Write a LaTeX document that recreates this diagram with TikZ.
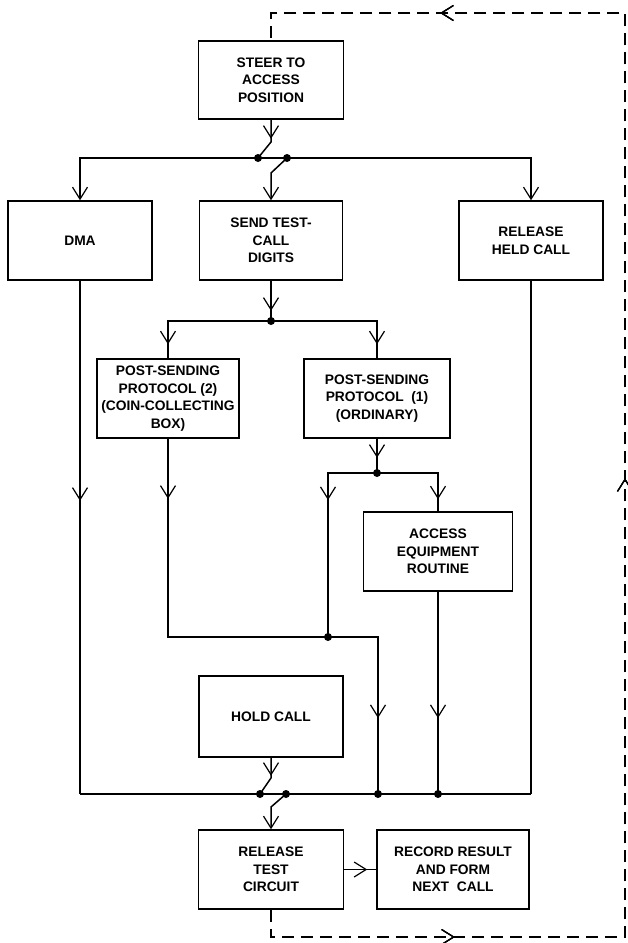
\documentclass[tikz,border=0pt]{standalone}
\usepackage{fontspec}
\setmainfont{Liberation Sans}
\usetikzlibrary{arrows.meta,decorations.markings}
\begin{document}
\begin{tikzpicture}[x=1pt,y=-1pt,
  line width=1.5pt,
  >={Straight Barb[length=12pt,width=15pt,line width=1.2pt]},
  box/.style={draw,rectangle,inner sep=0pt,align=center,
    font=\bfseries\fontsize{13.8}{17.5}\selectfont},
  arrowat/.style={postaction={decorate},decoration={markings,mark=at position #1 with {\arrow{>}}}},
  dashline/.style={dash pattern=on 12pt off 7pt}]
\useasboundingbox (0,0) rectangle (627,943);

% boxes
\node[box,minimum width=145pt,minimum height=78pt] (steer) at (271,80) {STEER TO\\ACCESS\\POSITION};
\node[box,minimum width=144pt,minimum height=79pt] (dma) at (80,240.5) {DMA};
\node[box,minimum width=143pt,minimum height=79pt] (send) at (271,240.5) {SEND TEST-\\CALL\\DIGITS};
\node[box,minimum width=144pt,minimum height=79pt] (rel) at (531,240.5) {RELEASE\\HELD CALL};
\node[box,minimum width=142pt,minimum height=79pt] (ps2) at (168,398.5) {POST-SENDING\\PROTOCOL (2)\\(COIN-COLLECTING\\BOX)};
\node[box,minimum width=146pt,minimum height=79pt] (ps1) at (377,398.5) {POST-SENDING\\PROTOCOL\ \ (1)\\(ORDINARY)};
\node[box,minimum width=149pt,minimum height=79pt] (acc) at (438,551.5) {ACCESS\\EQUIPMENT\\ROUTINE};
\node[box,minimum width=144pt,minimum height=81pt] (hold) at (271,716.5) {HOLD CALL};
\node[box,minimum width=145pt,minimum height=79pt] (rtc) at (271,869.5) {RELEASE\\TEST\\CIRCUIT};
\node[box,minimum width=152pt,minimum height=79pt] (rec) at (453,869.5) {RECORD RESULT\\AND FORM\\NEXT\ \ CALL};

% coordinates
\coordinate (s1a) at (271,142);
\coordinate (L1) at (258,158);
\coordinate (R1) at (287,158);
\coordinate (s1b) at (271,173);
\coordinate (J1) at (271,321);
\coordinate (J2) at (377,473);
\coordinate (J3) at (328,637);
\coordinate (B3) at (378,794);
\coordinate (B4) at (438,794);
\coordinate (BL) at (80,794);
\coordinate (BR) at (531,794);
\coordinate (s2a) at (271,778);
\coordinate (L2) at (260,794);
\coordinate (R2) at (286,794);
\coordinate (s2b) at (271,807);
\coordinate (d1) at (271,937);
\coordinate (d2) at (625,937);
\coordinate (d3) at (625,13);
\coordinate (d4) at (271,13);

% top switch
\draw[arrowat=19pt] (steer.south) -- (s1a) -- (L1);
\draw[->] (R1) -- (s1b) -- (send.north);
\draw[->] (L1) -| (dma.north);
\draw[->] (L1) -| (rel.north);

% send to protocols
\draw[arrowat=30pt] (send.south) -- (J1);
\draw[arrowat={-14pt}] (J1) -| (ps2.north);
\draw[arrowat={-14pt}] (J1) -| (ps1.north);

% ps1 branches
\draw[arrowat=19pt] (ps1.south) -- (J2);
\draw[arrowat=76pt] (J2) -| (J3);
\draw[arrowat={-12pt}] (J2) -| (acc.north);
\draw[arrowat={-76pt}] (acc.south) -- (B4);

% ps2 path
\draw[arrowat=60pt] (ps2.south) |- (J3);
\draw[arrowat={-76pt}] (J3) -| (B3);

% side columns
\draw[arrowat=220pt] (dma.south) -- (BL);
\draw (rel.south) -- (BR);

% bottom bus and switch
\draw (BL) -- (BR);
\draw[arrowat=18pt] (hold.south) -- (s2a) -- (L2);
\draw[->] (R2) -- (s2b) -- (rtc.north);
\draw[arrowat={-9pt}] (rtc.east) -- (rec.west);

% dashed return
\draw[dashline,arrowat=211pt,arrowat=840pt,arrowat=1490pt] (rtc.south) -- (d1) -- (d2) -- (d3) -- (d4) -- (steer.north);

% dots
\foreach \p in {L1,R1,J1,J2,J3,B3,B4,L2,R2}
  \fill (\p) circle (4pt);
\end{tikzpicture}
\end{document}
